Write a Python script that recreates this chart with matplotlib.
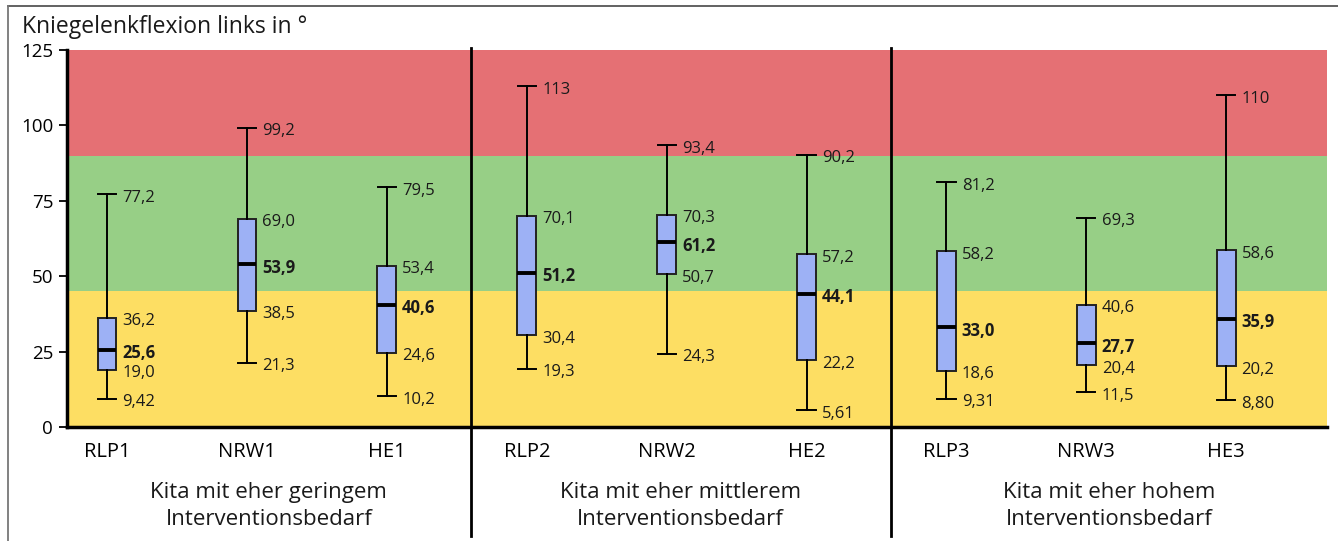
import matplotlib
matplotlib.use("Agg")
import matplotlib.pyplot as plt
from matplotlib.lines import Line2D

plt.rcParams["font.family"] = ["Open Sans", "DejaVu Sans"]

# Werte je Gruppe: unterer Whisker, Q1, Median, Q3, oberer Whisker
categories = ["RLP1", "NRW1", "HE1", "RLP2", "NRW2", "HE2", "RLP3", "NRW3", "HE3"]
whisker_low = [9.42, 21.3, 10.2, 19.3, 24.3, 5.61, 9.31, 11.5, 8.80]
q1 = [19.0, 38.5, 24.6, 30.4, 50.7, 22.2, 18.6, 20.4, 20.2]
median = [25.6, 53.9, 40.6, 51.2, 61.2, 44.1, 33.0, 27.7, 35.9]
q3 = [36.2, 69.0, 53.4, 70.1, 70.3, 57.2, 58.2, 40.6, 58.6]
whisker_high = [77.2, 99.2, 79.5, 113, 93.4, 90.2, 81.2, 69.3, 110]

low_labels = ["9,42", "21,3", "10,2", "19,3", "24,3", "5,61", "9,31", "11,5", "8,80"]
q1_labels = ["19,0", "38,5", "24,6", "30,4", "50,7", "22,2", "18,6", "20,4", "20,2"]
median_labels = ["25,6", "53,9", "40,6", "51,2", "61,2", "44,1", "33,0", "27,7", "35,9"]
q3_labels = ["36,2", "69,0", "53,4", "70,1", "70,3", "57,2", "58,2", "40,6", "58,6"]
high_labels = ["77,2", "99,2", "79,5", "113", "93,4", "90,2", "81,2", "69,3", "110"]

group_labels = [
    "Kita mit eher geringem\nInterventionsbedarf",
    "Kita mit eher mittlerem\nInterventionsbedarf",
    "Kita mit eher hohem\nInterventionsbedarf",
]
bands = [(0, 45, "#FDDE63"), (45, 90, "#97CF86"), (90, 125, "#E57074")]

fig = plt.figure(figsize=(13.38, 5.41), dpi=100)
ax = fig.add_axes([0.0501, 0.2107, 0.9417, 0.6969])

xmin, xmax = -0.286, 8.72
dividers = [2.6, 5.6]

for lo, hi, color in bands:
    ax.axhspan(lo, hi, color=color, lw=0, zorder=0)

n = len(categories)
pos = list(range(n))
stats = []
for i in range(n):
    stats.append({
        "whislo": whisker_low[i], "q1": q1[i], "med": median[i],
        "q3": q3[i], "whishi": whisker_high[i], "label": categories[i],
    })

ax.bxp(
    stats, positions=pos, widths=0.135, showfliers=False, patch_artist=True,
    boxprops=dict(facecolor="#9DB1F5", edgecolor="#222222", linewidth=1.4),
    medianprops=dict(color="black", linewidth=2.8),
    whiskerprops=dict(color="black", linewidth=1.4),
    capprops=dict(color="black", linewidth=1.4),
    capwidths=0.13,
)

def put(x, y, s, bold=False):
    ax.annotate(s, (x, y), xytext=(11, -2.5), textcoords="offset points",
                va="center", ha="left", fontsize=12, color="#1a1a1a",
                fontweight="bold" if bold else "normal", zorder=5)

for i in range(n):
    put(pos[i], whisker_low[i], low_labels[i])
    put(pos[i], q1[i], q1_labels[i])
    put(pos[i], median[i], median_labels[i], bold=True)
    put(pos[i], q3[i], q3_labels[i])
    put(pos[i], whisker_high[i], high_labels[i])

ax.set_xlim(xmin, xmax)
ax.set_ylim(0, 125)
ax.set_yticks([0, 25, 50, 75, 100, 125])
ax.tick_params(axis="y", length=6, width=1.3, labelsize=13.5, pad=4, direction="out")
ax.set_xticks(pos)
ax.set_xticklabels(categories)
ax.tick_params(axis="x", length=0, labelsize=14.5, pad=11)

for side in ["top", "right"]:
    ax.spines[side].set_visible(False)
for side in ["left", "bottom"]:
    ax.spines[side].set_linewidth(2.5)
    ax.spines[side].set_color("black")

xt = ax.get_xaxis_transform()
for d in dividers:
    ax.plot([d, d], [-0.288, 1.005], transform=xt, color="black", lw=2, clip_on=False, zorder=6)

edges = [xmin] + dividers + [xmax]
for g, label in enumerate(group_labels):
    cx = (edges[g] + edges[g + 1]) / 2
    ax.text(cx, -0.21, label, transform=xt, ha="center", va="center",
            fontsize=16, linespacing=1.38, color="#1a1a1a")

fig.text(22 / 1338, 1 - 27 / 541, "Kniegelenkflexion links in °", ha="left", va="center",
         fontsize=16.5, color="#1a1a1a")

# Rahmen oben und links
fig.add_artist(Line2D([8 / 1338, 1], [1 - 6 / 541, 1 - 6 / 541], color="#555555", lw=1.3))
fig.add_artist(Line2D([8 / 1338, 8 / 1338], [0, 1 - 6 / 541], color="#777777", lw=1.3))

fig.savefig("out.png", dpi=100)
